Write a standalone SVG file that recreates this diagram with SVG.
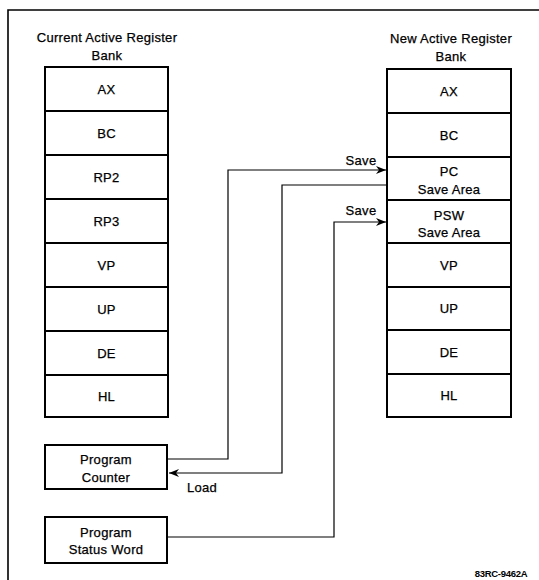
<svg xmlns="http://www.w3.org/2000/svg" width="539" height="580" viewBox="0 0 539 580">
<style>
  .t { font-family: "Liberation Sans", Arial, sans-serif; font-size: 13px; fill: #000; stroke: #000; stroke-width: 0.25; text-anchor: middle; letter-spacing: 0.3px; }
  .cell { fill: #fff; stroke: #000; stroke-width: 2; }
  .conn { fill: none; stroke: #000; stroke-width: 1.2; }
  .frame { fill: none; stroke: #000; stroke-width: 1.6; }
  .small { font-family: "Liberation Sans", Arial, sans-serif; font-size: 9.5px; fill: #000; text-anchor: middle; font-weight: bold; letter-spacing: -0.3px; }
</style>
<defs>
  <marker id="arr" markerWidth="11" markerHeight="8" refX="10" refY="4" orient="auto" markerUnits="userSpaceOnUse">
    <path d="M0,0 L10,4 L0,8 L3,4 z" fill="#000"/>
  </marker>
</defs>
<rect width="539" height="580" fill="#fff"/>
<path class="frame" d="M8,580 V10 H539"/>

<g id="current-bank">
  <text class="t" x="107" y="42">Current Active Register</text>
  <text class="t" x="107" y="59.5">Bank</text>
  <rect class="cell" x="45" y="67" width="123" height="44"/>
  <rect class="cell" x="45" y="111" width="123" height="44"/>
  <rect class="cell" x="45" y="155" width="123" height="44"/>
  <rect class="cell" x="45" y="199" width="123" height="44"/>
  <rect class="cell" x="45" y="243" width="123" height="44"/>
  <rect class="cell" x="45" y="287" width="123" height="44"/>
  <rect class="cell" x="45" y="331" width="123" height="44"/>
  <rect class="cell" x="45" y="375" width="123" height="42"/>
  <text class="t" x="106.5" y="93.5">AX</text>
  <text class="t" x="106.5" y="137.5">BC</text>
  <text class="t" x="106.5" y="181.5">RP2</text>
  <text class="t" x="106.5" y="225.5">RP3</text>
  <text class="t" x="106.5" y="269.5">VP</text>
  <text class="t" x="106.5" y="313.5">UP</text>
  <text class="t" x="106.5" y="357.5">DE</text>
  <text class="t" x="106.5" y="400.5">HL</text>
</g>

<g id="new-bank">
  <text class="t" x="451" y="42.5">New Active Register</text>
  <text class="t" x="451" y="61">Bank</text>
  <rect class="cell" x="387" y="69" width="124" height="44"/>
  <rect class="cell" x="387" y="113" width="124" height="44"/>
  <rect class="cell" x="387" y="157" width="124" height="43"/>
  <rect class="cell" x="387" y="200" width="124" height="43"/>
  <rect class="cell" x="387" y="243" width="124" height="44"/>
  <rect class="cell" x="387" y="287" width="124" height="43"/>
  <rect class="cell" x="387" y="330" width="124" height="44"/>
  <rect class="cell" x="387" y="374" width="124" height="43"/>
  <text class="t" x="449" y="95.5">AX</text>
  <text class="t" x="449" y="139.5">BC</text>
  <text class="t" x="449" y="176">PC</text>
  <text class="t" x="449" y="194">Save Area</text>
  <text class="t" x="449" y="219.5">PSW</text>
  <text class="t" x="449" y="236.5">Save Area</text>
  <text class="t" x="449" y="269.5">VP</text>
  <text class="t" x="449" y="313">UP</text>
  <text class="t" x="449" y="356.5">DE</text>
  <text class="t" x="449" y="400">HL</text>
</g>

<g id="program-counter">
  <rect class="cell" x="45" y="445" width="122" height="44"/>
  <text class="t" x="106" y="463.5">Program</text>
  <text class="t" x="106" y="481.5">Counter</text>
</g>

<g id="program-status-word">
  <rect class="cell" x="45" y="517" width="122" height="46"/>
  <text class="t" x="106" y="536.5">Program</text>
  <text class="t" x="106" y="553.5">Status Word</text>
</g>

<g id="connectors">
  <path class="conn" d="M168,459 H228 V170 H386" marker-end="url(#arr)"/>
  <path class="conn" d="M387,185 H282 V473 H169" marker-end="url(#arr)"/>
  <path class="conn" d="M168,537 H334 V222 H386" marker-end="url(#arr)"/>
  <text class="t" x="361" y="165">Save</text>
  <text class="t" x="361" y="215">Save</text>
  <text class="t" x="202" y="492">Load</text>
</g>

<text class="small" x="501" y="576.5">83RC-9462A</text>
</svg>
